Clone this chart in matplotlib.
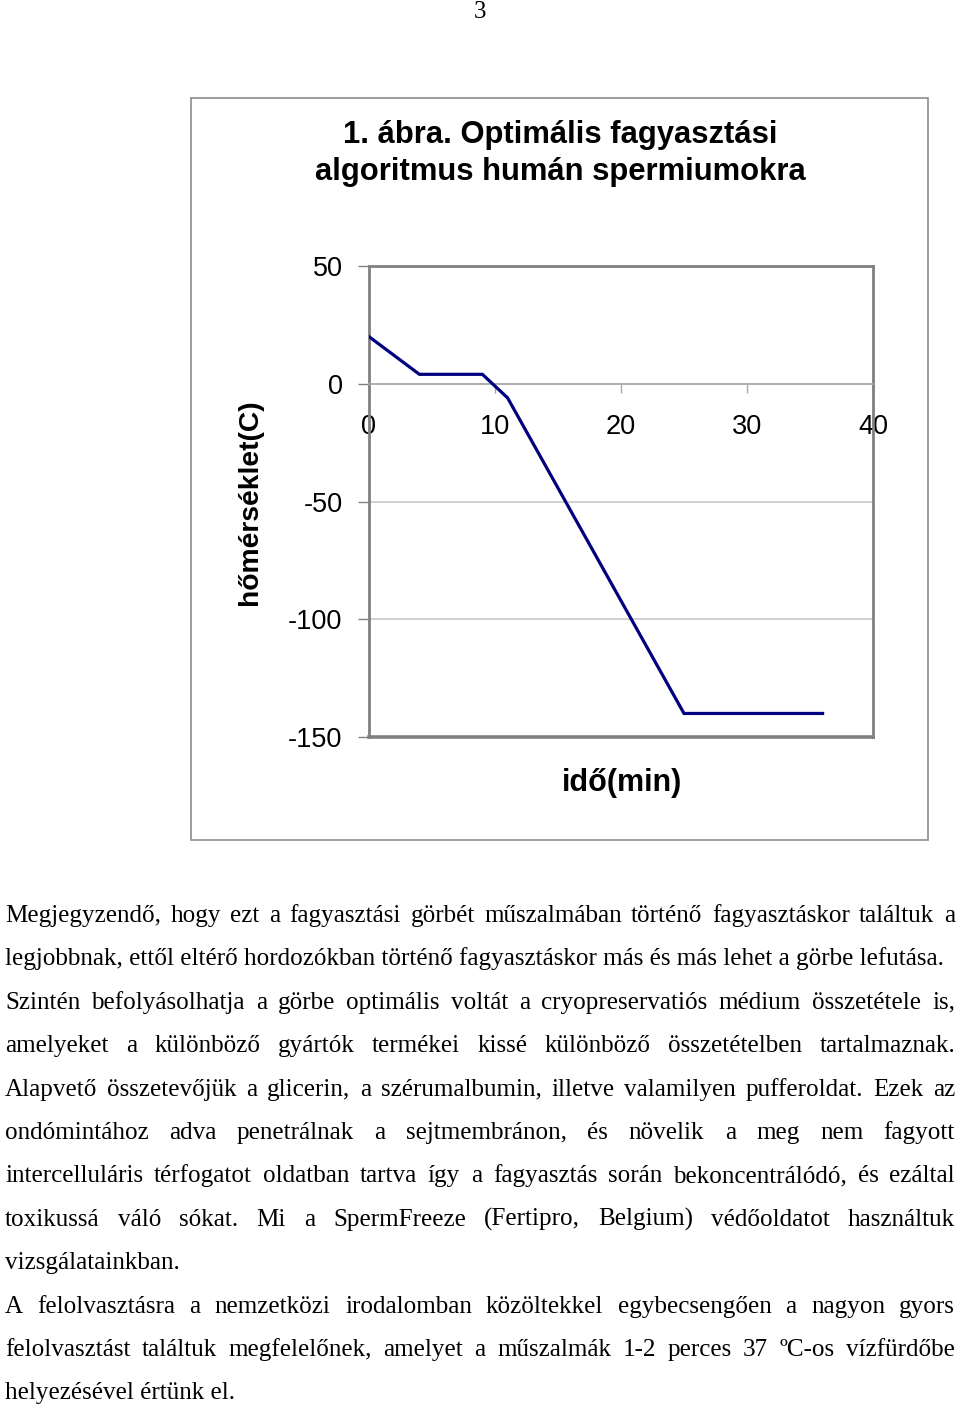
import matplotlib
matplotlib.use("Agg")
import matplotlib.pyplot as plt
from matplotlib.patches import Rectangle

plt.rcParams["axes.unicode_minus"] = False

# ---- data ----
time_min = [0, 4, 9, 11, 25, 36]
temp_c = [20, 4, 4, -6, -140, -140]
x_ticks = [0, 10, 20, 30, 40]
y_ticks = [50, 0, -50, -100, -150]
title_lines = ["1. ábra. Optimális fagyasztási", "algoritmus humán spermiumokra"]
x_label = "idő(min)"
y_label = "hőmérséklet(C)"
page_number = "3"
body_lines = [
    ("Megjegyzendő, hogy ezt a fagyasztási görbét műszalmában történő fagyasztáskor találtuk a", True),
    ("legjobbnak, ettől eltérő hordozókban történő fagyasztáskor más és más lehet a görbe lefutása.", False),
    ("Szintén befolyásolhatja a görbe optimális voltát a cryopreservatiós médium összetétele is,", True),
    ("amelyeket a különböző gyártók termékei kissé különböző összetételben tartalmaznak.", True),
    ("Alapvető összetevőjük a glicerin, a szérumalbumin, illetve valamilyen pufferoldat. Ezek az", True),
    ("ondómintához adva penetrálnak a sejtmembránon, és növelik a meg nem fagyott", True),
    ("intercelluláris térfogatot oldatban tartva így a fagyasztás során bekoncentrálódó, és ezáltal", True),
    ("toxikussá váló sókat. Mi a SpermFreeze (Fertipro, Belgium) védőoldatot használtuk", True),
    ("vizsgálatainkban.", False),
    ("A felolvasztásra a nemzetközi irodalomban közöltekkel egybecsengően a nagyon gyors", True),
    ("felolvasztást találtuk megfelelőnek, amelyet a műszalmák 1-2 perces 37 ºC-os vízfürdőbe", True),
    ("helyezésével értünk el.", False),
]

W, H = 960, 1408
fig = plt.figure(figsize=(W / 100, H / 100), dpi=100)
fig.patch.set_facecolor("white")

def fx(px):
    return px / W

def fy(py):
    return 1 - py / H

# chart outer frame
fig.patches.append(Rectangle((fx(191), fy(840)), fx(928) - fx(191), fy(98) - fy(840),
                             transform=fig.transFigure, fill=False,
                             edgecolor="#8c8c8c", linewidth=1.2))

sans = "Liberation Sans"
serif = "Liberation Serif"

ax = fig.add_axes([fx(369), fy(737), fx(873) - fx(369), fy(266) - fy(737)])
ax.plot(time_min, temp_c, color="#000080", linewidth=2.3, solid_joinstyle="miter", zorder=3)
ax.set_xlim(0, 40)
ax.set_ylim(-150, 50)
ax.set_yticks(y_ticks)
ax.set_xticks(x_ticks)
for y in [-50, -100]:
    ax.axhline(y, color="#c8c8c8", linewidth=1.2, zorder=1)

for s in ["top", "right", "left"]:
    ax.spines[s].set_color("#808080")
    ax.spines[s].set_linewidth(2.0)
ax.spines["bottom"].set_position(("data", 0))
ax.spines["bottom"].set_color("#a8a8a8")
ax.spines["bottom"].set_linewidth(1.3)
# bottom border of plot area
ax.plot([0, 40], [-150, -150], color="#808080", linewidth=2.6, clip_on=False, zorder=4)

ax.tick_params(axis="y", direction="out", length=8, width=1.0, color="#808080",
               pad=11, labelsize=19.5)
ax.tick_params(axis="x", direction="out", length=6.5, width=1.0, color="#a8a8a8",
               pad=15, labelsize=19.5)
for lab in ax.get_xticklabels() + ax.get_yticklabels():
    lab.set_fontfamily(sans)

# axis labels
fig.text(fx(250), fy(502), y_label, rotation=90, ha="center", va="center",
         fontsize=20.3, fontweight="bold", family=sans)
fig.text(fx(622), fy(783), x_label, ha="center", va="center",
         fontsize=22, fontweight="bold", family=sans)

# title
for i, line in enumerate(title_lines):
    fig.text(fx(560), fy(135 + 37 * i), line, ha="center", va="center",
             fontsize=22.3, fontweight="bold", family=sans)

# page number
fig.text(fx(480), fy(12), page_number, ha="center", va="center", fontsize=18, family=serif)

# body text, justified
renderer = fig.canvas.get_renderer()
body_size = 18.1
left_px, right_px = 5, 955
base0 = 922
pitch = 43.4
for i, (line, justify) in enumerate(body_lines):
    ybase = fy(base0 + pitch * i)
    if not justify:
        fig.text(fx(left_px), ybase, line, ha="left", va="baseline",
                 fontsize=body_size, family=serif)
        continue
    words = line.split(" ")
    texts = [fig.text(0, ybase, w, ha="left", va="baseline", fontsize=body_size, family=serif)
             for w in words]
    widths = [t.get_window_extent(renderer=renderer).width for t in texts]
    gap = (right_px - left_px - sum(widths)) / (len(words) - 1)
    x = left_px
    for t, w in zip(texts, widths):
        t.set_x(fx(x))
        x += w + gap

fig.savefig("out.png", dpi=100, facecolor="white")
